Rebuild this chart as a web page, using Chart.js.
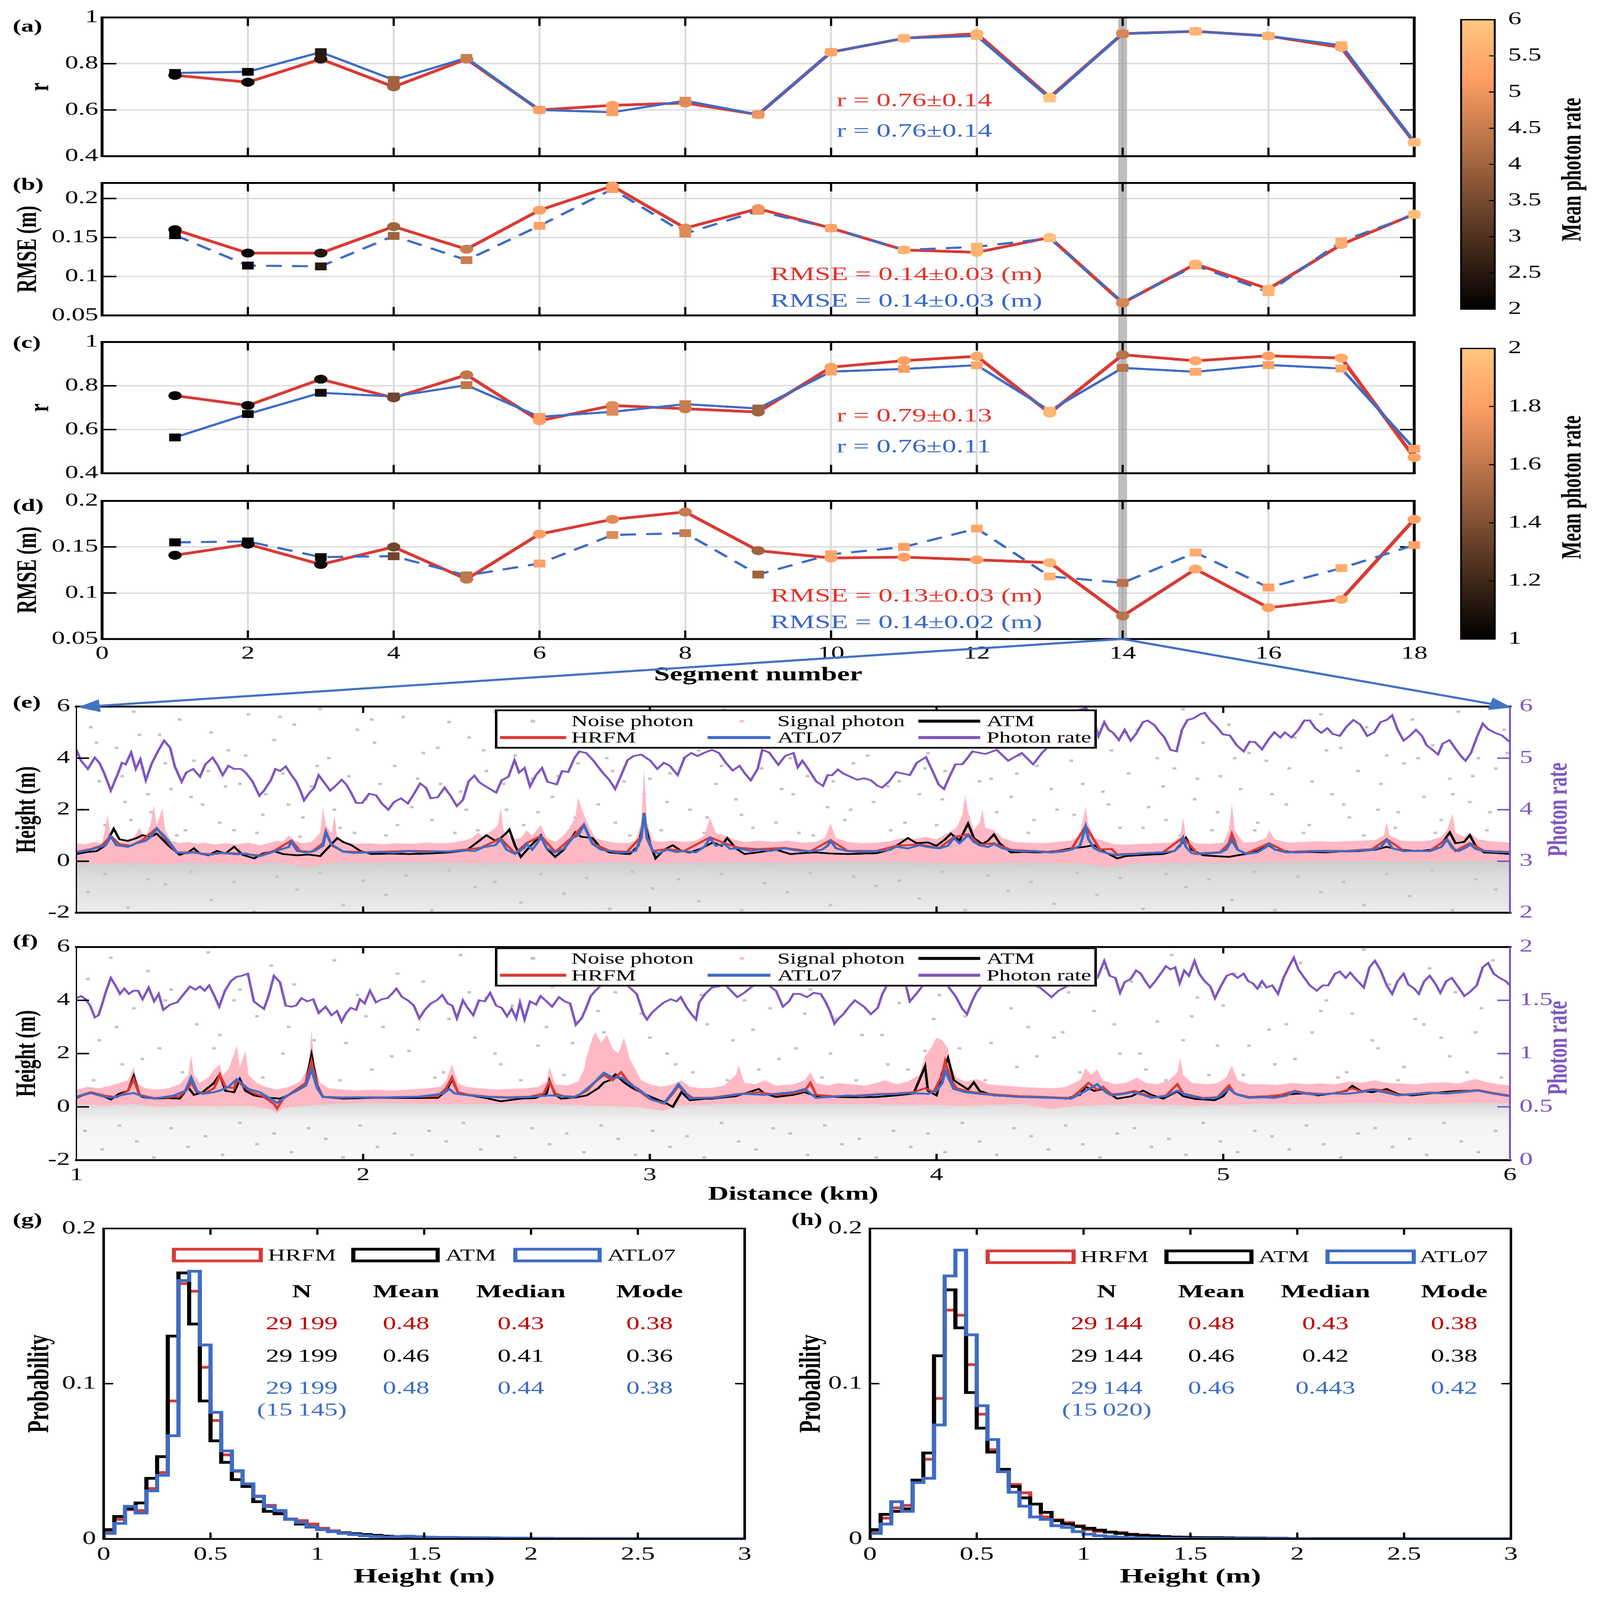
<!DOCTYPE html>
<html><head><meta charset="utf-8">
<script src="https://cdn.jsdelivr.net/npm/chart.js@4/dist/chart.umd.min.js"></script>
<style>
html,body{margin:0;padding:0;background:#fff;overflow:hidden;}
body{position:relative;width:5047px;height:7519px;overflow:hidden;font-family:"Liberation Serif","Times New Roman",serif;color:#000;}
canvas{position:absolute;}
.tx{position:absolute;white-space:nowrap;line-height:1;transform:translateY(-50%);z-index:6;}
.ctr{position:absolute;white-space:nowrap;line-height:1;transform:translate(-50%,-50%);z-index:6;}
.rot{position:absolute;white-space:nowrap;line-height:1;transform:translate(-50%,-50%) rotate(-90deg);z-index:6;font-weight:bold;}
.lg{position:absolute;background:#fff;border:8px solid #000;box-sizing:border-box;z-index:4;}
.sw{position:absolute;z-index:6;}
</style></head><body>
<script>
// ===================== DATA =====================
const segments=[1,2,3,4,5,6,7,8,9,10,11,12,13,14,15,16,17,18];
const segTicks=[0,2,4,6,8,10,12,14,16,18];
const rTicks=[0.4,0.6,0.8,1];
const rmseTicks=[0.05,0.1,0.15,0.2];
const cbTicksAB=[2,2.5,3,3.5,4,4.5,5,5.5,6];
const cbTicksCD=[1,1.2,1.4,1.6,1.8,2];
const heightTicks=[-2,0,2,4,6];
const rateTicksE=[2,3,4,5,6];
const rateTicksF=[0,0.5,1,1.5,2];
const distTicks=[1,2,3,4,5,6];
const histXTicks=[0,0.5,1,1.5,2,2.5,3];
const histYTicks=[0,0.1,0.2];

const rateAB=[2.0,2.1,2.5,4.0,4.5,5.2,5.2,4.8,5.0,5.3,5.6,5.6,5.9,4.7,5.6,5.6,5.5,5.8];
const rateCD=[1.0,1.02,1.05,1.35,1.6,1.8,1.7,1.62,1.5,1.82,1.8,1.84,1.92,1.58,1.85,1.8,1.86,1.82];

const rHRFM_a=[0.75,0.72,0.82,0.70,0.82,0.60,0.62,0.63,0.58,0.85,0.91,0.93,0.655,0.93,0.94,0.92,0.87,0.46];
const rATL_a =[0.76,0.765,0.85,0.73,0.825,0.60,0.59,0.64,0.58,0.85,0.91,0.92,0.65,0.93,0.94,0.92,0.88,0.46];
const rmseHRFM_b=[0.160,0.130,0.130,0.164,0.135,0.185,0.216,0.162,0.187,0.162,0.134,0.131,0.150,0.066,0.116,0.084,0.141,0.180];
const rmseATL_b =[0.153,0.114,0.113,0.152,0.121,0.165,0.212,0.155,0.184,0.162,0.134,0.138,0.149,0.067,0.114,0.080,0.145,0.179];
const rHRFM_c=[0.755,0.71,0.83,0.745,0.85,0.64,0.71,0.695,0.68,0.885,0.915,0.935,0.675,0.942,0.914,0.937,0.927,0.472];
const rATL_c =[0.564,0.671,0.768,0.751,0.803,0.658,0.681,0.716,0.696,0.865,0.877,0.894,0.686,0.882,0.864,0.895,0.879,0.512];
const rmseHRFM_d=[0.141,0.153,0.131,0.150,0.115,0.164,0.180,0.188,0.146,0.138,0.139,0.136,0.133,0.075,0.126,0.084,0.093,0.180];
const rmseATL_d =[0.155,0.156,0.139,0.140,0.119,0.132,0.163,0.165,0.120,0.142,0.150,0.170,0.118,0.111,0.144,0.106,0.127,0.152];

const eRate=[[1.000,5.16],[1.016,4.95],[1.040,4.79],[1.064,5.01],[1.080,4.91],[1.096,4.72],[1.120,4.37],[1.144,4.69],[1.159,4.91],[1.172,4.88],[1.191,5.11],[1.207,4.79],[1.223,4.98],[1.242,4.57],[1.263,4.90],[1.287,5.16],[1.306,5.34],[1.327,5.20],[1.343,4.84],[1.367,4.54],[1.383,4.72],[1.407,4.79],[1.431,4.64],[1.450,4.88],[1.475,5.01],[1.494,4.85],[1.510,4.67],[1.530,4.85],[1.550,4.79],[1.574,4.79],[1.590,4.72],[1.614,4.55],[1.638,4.27],[1.654,4.37],[1.678,4.57],[1.694,4.79],[1.710,4.75],[1.730,4.84],[1.750,4.67],[1.766,4.55],[1.781,4.37],[1.794,4.18],[1.813,4.33],[1.829,4.42],[1.845,4.67],[1.869,4.49],[1.885,4.37],[1.909,4.49],[1.925,4.58],[1.941,4.49],[1.957,4.34],[1.976,4.13],[1.997,4.13],[2.021,4.31],[2.045,4.28],[2.065,4.12],[2.088,4.00],[2.108,4.15],[2.132,4.22],[2.156,4.12],[2.180,4.33],[2.199,4.51],[2.220,4.42],[2.236,4.22],[2.260,4.24],[2.284,4.43],[2.305,4.27],[2.327,4.07],[2.348,4.19],[2.368,4.55],[2.388,4.66],[2.404,4.54],[2.419,4.48],[2.443,4.40],[2.464,4.33],[2.483,4.57],[2.507,4.64],[2.528,4.96],[2.544,4.72],[2.563,4.81],[2.582,4.45],[2.603,4.67],[2.624,4.81],[2.643,4.54],[2.675,4.49],[2.694,4.75],[2.715,4.73],[2.738,5.01],[2.754,5.13],[2.778,5.10],[2.802,4.96],[2.834,4.73],[2.858,4.58],[2.879,4.40],[2.898,4.64],[2.922,4.96],[2.943,5.04],[2.970,5.07],[3.002,4.95],[3.026,4.79],[3.049,4.91],[3.070,4.85],[3.097,4.67],[3.121,5.01],[3.145,5.10],[3.166,5.04],[3.188,5.10],[3.217,5.16],[3.241,5.10],[3.265,4.91],[3.289,4.76],[3.313,4.85],[3.332,4.70],[3.352,4.57],[3.376,4.79],[3.392,5.16],[3.416,5.11],[3.448,4.87],[3.472,5.04],[3.501,5.10],[3.516,4.82],[3.532,4.95],[3.556,4.76],[3.580,4.55],[3.604,4.46],[3.620,4.67],[3.636,4.67],[3.656,4.78],[3.675,4.70],[3.699,4.64],[3.723,4.58],[3.747,4.61],[3.771,4.57],[3.795,4.46],[3.811,4.43],[3.835,4.55],[3.859,4.73],[3.883,4.70],[3.907,4.67],[3.931,4.91],[3.963,5.02],[3.986,4.75],[4.007,4.49],[4.026,4.40],[4.045,4.64],[4.066,4.88],[4.090,4.88],[4.109,5.01],[4.125,5.13],[4.170,5.08],[4.210,5.16],[4.250,4.95],[4.297,5.10],[4.337,4.88],[4.369,5.11],[4.409,5.32],[4.457,5.55],[4.497,5.94],[4.521,5.97],[4.545,5.83],[4.565,5.43],[4.585,5.70],[4.600,5.55],[4.616,5.49],[4.636,5.35],[4.656,5.55],[4.677,5.34],[4.696,5.47],[4.720,5.70],[4.736,5.73],[4.760,5.64],[4.776,5.52],[4.795,5.40],[4.816,5.16],[4.837,5.13],[4.856,5.55],[4.875,5.74],[4.896,5.77],[4.919,5.85],[4.935,5.88],[4.955,5.73],[4.975,5.62],[4.999,5.46],[5.023,5.44],[5.047,5.25],[5.071,5.13],[5.092,5.32],[5.111,5.31],[5.135,5.17],[5.159,5.37],[5.178,5.50],[5.199,5.40],[5.215,5.50],[5.238,5.40],[5.262,5.55],[5.283,5.73],[5.302,5.73],[5.321,5.58],[5.342,5.49],[5.363,5.58],[5.382,5.47],[5.406,5.43],[5.430,5.61],[5.454,5.74],[5.478,5.65],[5.502,5.43],[5.526,5.50],[5.549,5.70],[5.570,5.74],[5.589,5.83],[5.608,5.55],[5.629,5.34],[5.650,5.43],[5.672,5.55],[5.693,5.43],[5.709,5.25],[5.730,5.16],[5.749,5.07],[5.765,5.28],[5.789,5.35],[5.813,5.16],[5.829,5.04],[5.845,4.95],[5.864,5.10],[5.884,5.40],[5.905,5.67],[5.924,5.56],[5.948,5.49],[5.972,5.44],[6.000,5.31]];
const eATL=[[1.00,0.34],[1.04,0.42],[1.08,0.55],[1.10,0.60],[1.12,0.95],[1.14,0.62],[1.18,0.56],[1.21,0.70],[1.24,0.79],[1.26,0.95],[1.28,1.26],[1.30,1.05],[1.32,0.80],[1.35,0.35],[1.38,0.30],[1.41,0.36],[1.44,0.27],[1.47,0.25],[1.50,0.33],[1.53,0.30],[1.56,0.27],[1.59,0.30],[1.62,0.22],[1.64,0.20],[1.67,0.30],[1.70,0.42],[1.74,0.55],[1.75,0.76],[1.77,0.40],[1.80,0.34],[1.83,0.40],[1.86,0.60],[1.87,1.12],[1.89,0.65],[1.93,0.37],[1.97,0.32],[2.01,0.34],[2.06,0.36],[2.11,0.33],[2.16,0.39],[2.21,0.35],[2.26,0.38],[2.30,0.37],[2.35,0.42],[2.39,0.40],[2.42,0.55],[2.46,0.62],[2.48,0.84],[2.50,0.45],[2.53,0.28],[2.56,0.50],[2.57,0.67],[2.59,0.45],[2.61,0.75],[2.62,0.95],[2.64,0.50],[2.67,0.34],[2.70,0.48],[2.73,0.90],[2.75,1.00],[2.77,1.40],[2.79,0.90],[2.80,0.67],[2.83,0.45],[2.86,0.39],[2.89,0.33],[2.92,0.34],[2.95,0.40],[2.97,0.90],[2.98,1.85],[2.99,0.90],[3.01,0.39],[3.03,0.30],[3.06,0.45],[3.09,0.36],[3.12,0.39],[3.16,0.35],[3.19,0.55],[3.21,0.90],[3.23,0.60],[3.26,0.67],[3.28,0.48],[3.31,0.50],[3.35,0.40],[3.38,0.45],[3.42,0.40],[3.47,0.50],[3.51,0.42],[3.56,0.37],[3.60,0.45],[3.62,0.60],[3.63,0.79],[3.65,0.50],[3.69,0.39],[3.74,0.36],[3.79,0.39],[3.83,0.42],[3.86,0.56],[3.90,0.50],[3.94,0.62],[3.97,0.55],[4.01,0.50],[4.04,0.60],[4.06,0.90],[4.08,0.70],[4.11,1.01],[4.13,0.75],[4.15,0.62],[4.18,0.55],[4.20,0.67],[4.23,0.50],[4.26,0.42],[4.30,0.38],[4.33,0.39],[4.37,0.36],[4.40,0.34],[4.44,0.38],[4.47,0.45],[4.50,0.60],[4.51,0.95],[4.52,1.34],[4.53,0.85],[4.55,0.50],[4.57,0.39],[4.60,0.30],[4.63,0.23],[4.66,0.26],[4.70,0.28],[4.74,0.32],[4.79,0.34],[4.83,0.40],[4.85,0.60],[4.86,0.90],[4.87,0.55],[4.89,0.32],[4.91,0.28],[4.95,0.30],[4.99,0.34],[5.01,0.45],[5.03,0.81],[5.05,0.45],[5.08,0.28],[5.12,0.35],[5.15,0.55],[5.16,0.67],[5.18,0.45],[5.22,0.34],[5.27,0.36],[5.32,0.39],[5.37,0.37],[5.43,0.39],[5.48,0.42],[5.52,0.45],[5.55,0.55],[5.57,0.84],[5.59,0.50],[5.63,0.39],[5.68,0.41],[5.72,0.39],[5.76,0.55],[5.78,0.84],[5.80,0.50],[5.82,0.39],[5.85,0.55],[5.86,0.67],[5.88,0.48],[5.91,0.39],[5.95,0.36],[6.00,0.34]];
const eATM=[[1.00,0.28],[1.04,0.36],[1.07,0.39],[1.10,0.60],[1.13,1.26],[1.15,0.85],[1.18,0.79],[1.21,0.90],[1.23,1.01],[1.26,0.95],[1.28,1.07],[1.30,0.85],[1.32,0.62],[1.36,0.25],[1.39,0.35],[1.41,0.50],[1.43,0.30],[1.46,0.23],[1.49,0.40],[1.52,0.30],[1.55,0.56],[1.58,0.25],[1.62,0.11],[1.65,0.30],[1.69,0.39],[1.72,0.28],[1.77,0.23],[1.81,0.26],[1.85,0.20],[1.88,0.55],[1.91,0.90],[1.93,0.75],[1.96,0.62],[1.99,0.40],[2.03,0.28],[2.09,0.30],[2.16,0.28],[2.23,0.30],[2.30,0.34],[2.36,0.42],[2.40,0.75],[2.43,1.01],[2.46,0.80],[2.48,0.90],[2.50,1.10],[2.51,1.23],[2.53,0.60],[2.55,0.17],[2.58,0.55],[2.62,1.01],[2.64,0.50],[2.67,0.17],[2.70,0.45],[2.74,1.12],[2.76,0.95],[2.80,0.90],[2.83,0.50],[2.86,0.34],[2.90,0.30],[2.93,0.28],[2.96,0.60],[2.98,1.63],[3.00,0.70],[3.02,0.11],[3.05,0.45],[3.08,0.62],[3.11,0.40],[3.14,0.34],[3.18,0.50],[3.22,0.73],[3.25,0.60],[3.27,0.90],[3.30,0.50],[3.33,0.28],[3.38,0.35],[3.44,0.45],[3.49,0.28],[3.54,0.32],[3.58,0.34],[3.63,0.30],[3.69,0.28],[3.75,0.30],[3.79,0.31],[3.84,0.45],[3.90,0.90],[3.93,0.70],[3.97,0.73],[4.00,0.60],[4.03,0.85],[4.05,1.07],[4.08,0.80],[4.11,1.46],[4.13,0.90],[4.16,0.67],[4.18,0.80],[4.20,1.04],[4.22,0.70],[4.26,0.34],[4.31,0.36],[4.36,0.34],[4.42,0.40],[4.47,0.50],[4.51,0.55],[4.55,0.62],[4.58,0.40],[4.63,0.11],[4.66,0.20],[4.70,0.23],[4.75,0.26],[4.79,0.28],[4.83,0.40],[4.86,0.75],[4.87,0.90],[4.89,0.45],[4.93,0.23],[4.97,0.20],[5.02,0.17],[5.06,0.25],[5.08,0.28],[5.12,0.40],[5.16,0.62],[5.18,0.45],[5.25,0.34],[5.30,0.36],[5.36,0.34],[5.41,0.38],[5.47,0.39],[5.53,0.45],[5.57,0.56],[5.61,0.45],[5.68,0.39],[5.73,0.45],[5.77,0.80],[5.79,1.12],[5.81,0.70],[5.84,0.75],[5.86,1.01],[5.88,0.60],[5.91,0.34],[5.95,0.32],[6.00,0.28]];
const eHRFM=[[1.00,0.36],[1.05,0.47],[1.09,0.62],[1.12,0.98],[1.15,0.66],[1.19,0.60],[1.23,0.82],[1.28,1.28],[1.31,0.88],[1.35,0.33],[1.40,0.35],[1.46,0.27],[1.52,0.32],[1.58,0.29],[1.64,0.22],[1.69,0.41],[1.75,0.80],[1.78,0.40],[1.82,0.36],[1.86,0.70],[1.87,1.15],[1.89,0.62],[1.93,0.38],[2.01,0.35],[2.16,0.40],[2.30,0.38],[2.41,0.52],[2.48,0.88],[2.53,0.30],[2.57,0.70],[2.62,0.98],[2.67,0.36],[2.73,0.93],[2.77,1.42],[2.80,0.70],[2.86,0.40],[2.92,0.36],[2.97,0.95],[2.98,1.88],[2.99,0.95],[3.01,0.40],[3.06,0.47],[3.12,0.40],[3.21,0.93],[3.26,0.70],[3.31,0.52],[3.38,0.47],[3.47,0.52],[3.56,0.38],[3.63,0.82],[3.69,0.40],[3.79,0.40],[3.86,0.60],[3.94,0.65],[4.01,0.52],[4.06,0.93],[4.11,1.05],[4.15,0.64],[4.20,0.70],[4.26,0.44],[4.33,0.40],[4.40,0.36],[4.47,0.46],[4.52,1.36],[4.57,0.45],[4.61,0.48],[4.63,0.26],[4.70,0.30],[4.79,0.35],[4.86,0.92],[4.91,0.30],[4.99,0.35],[5.02,0.70],[5.03,1.05],[5.05,0.45],[5.08,0.30],[5.16,0.70],[5.22,0.36],[5.32,0.40],[5.43,0.40],[5.52,0.47],[5.57,0.86],[5.63,0.40],[5.72,0.40],[5.78,0.86],[5.81,0.40],[5.86,0.70],[5.91,0.40],[6.00,0.36]];
const eSigTop=[[1.00,0.70],[1.03,0.65],[1.06,0.75],[1.09,0.70],[1.11,1.80],[1.12,0.80],[1.15,0.72],[1.18,0.85],[1.20,0.90],[1.22,1.30],[1.24,0.85],[1.26,1.50],[1.27,2.20],[1.28,1.40],[1.30,2.07],[1.31,1.20],[1.33,0.80],[1.36,0.70],[1.39,0.75],[1.42,0.68],[1.45,0.72],[1.48,0.65],[1.52,0.70],[1.56,0.66],[1.60,0.72],[1.64,0.62],[1.67,0.70],[1.70,0.80],[1.72,0.75],[1.74,1.00],[1.76,0.80],[1.79,0.70],[1.82,0.75],[1.85,1.10],[1.86,2.07],[1.87,1.40],[1.89,1.10],[1.90,1.80],[1.91,0.90],[1.94,0.72],[1.98,0.68],[2.02,0.70],[2.07,0.66],[2.12,0.70],[2.17,0.68],[2.22,0.72],[2.27,0.70],[2.31,0.72],[2.35,0.80],[2.38,0.90],[2.40,1.10],[2.42,0.95],[2.45,1.20],[2.47,1.40],[2.48,2.07],[2.49,1.20],[2.52,0.85],[2.55,0.90],[2.57,1.20],[2.59,1.00],[2.62,1.40],[2.64,0.90],[2.67,0.75],[2.70,1.00],[2.72,1.30],[2.74,1.70],[2.75,2.46],[2.77,1.80],[2.79,1.30],[2.81,0.90],[2.84,0.80],[2.88,0.72],[2.92,0.70],[2.95,0.80],[2.97,1.50],[2.98,3.58],[2.99,1.50],[3.01,0.80],[3.04,0.75],[3.08,0.80],[3.12,0.75],[3.16,0.80],[3.19,1.00],[3.21,1.68],[3.23,1.10],[3.26,1.00],[3.29,0.85],[3.33,0.75],[3.38,0.80],[3.43,0.75],[3.48,0.80],[3.53,0.72],[3.58,0.75],[3.61,0.90],[3.63,1.46],[3.65,0.90],[3.69,0.75],[3.74,0.70],[3.79,0.72],[3.84,0.78],[3.88,0.90],[3.92,0.85],[3.96,0.95],[4.00,0.85],[4.04,1.10],[4.07,1.30],[4.09,1.80],[4.10,2.58],[4.11,1.90],[4.13,1.20],[4.15,1.50],[4.16,2.00],[4.17,1.30],[4.20,1.20],[4.23,0.90],[4.27,0.75],[4.32,0.72],[4.37,0.70],[4.42,0.75],[4.47,0.80],[4.50,1.00],[4.51,1.60],[4.52,2.10],[4.53,1.40],[4.55,0.90],[4.58,0.80],[4.62,0.65],[4.67,0.65],[4.72,0.68],[4.77,0.70],[4.82,0.72],[4.85,0.95],[4.86,1.68],[4.87,0.95],[4.90,0.70],[4.95,0.68],[5.00,0.72],[5.02,1.20],[5.03,2.24],[5.04,1.20],[5.07,0.72],[5.11,0.75],[5.15,0.90],[5.16,1.20],[5.18,0.85],[5.23,0.72],[5.28,0.75],[5.33,0.78],[5.38,0.75],[5.43,0.78],[5.48,0.80],[5.53,0.82],[5.56,1.00],[5.57,1.51],[5.58,1.00],[5.62,0.80],[5.67,0.78],[5.72,0.80],[5.76,0.95],[5.78,1.20],[5.80,1.85],[5.81,1.10],[5.84,0.95],[5.86,1.10],[5.89,0.85],[5.93,0.78],[5.97,0.75],[6.00,0.72]];
const eSigBot=[[1.00,-0.05],[1.10,-0.10],[1.20,-0.05],[1.30,-0.12],[1.40,-0.05],[1.50,-0.08],[1.60,-0.12],[1.70,-0.05],[1.80,-0.20],[1.90,-0.05],[2.00,-0.05],[2.20,-0.02],[2.40,-0.08],[2.50,-0.05],[2.60,-0.10],[2.70,-0.12],[2.80,-0.05],[2.90,-0.02],[3.00,-0.10],[3.10,-0.05],[3.30,-0.03],[3.50,-0.05],[3.70,0.00],[3.90,-0.03],[4.10,-0.10],[4.30,-0.05],[4.50,-0.08],[4.60,-0.20],[4.70,-0.08],[4.90,-0.05],[5.10,-0.05],[5.30,0.00],[5.50,0.02],[5.70,0.00],[5.90,0.02],[6.00,0.00]];
const eNoiseTop=[[1.00,0.10],[6.00,0.10]];
const eNoiseHi=[[1.05,5.2],[1.08,3.1],[1.10,1.4],[1.14,4.4],[1.17,2.3],[1.20,5.8],[1.23,3.6],[1.26,1.9],[1.29,4.9],[1.33,2.8],[1.36,5.5],[1.38,1.2],[1.41,3.9],[1.44,2.2],[1.47,5.0],[1.50,1.5],[1.53,4.3],[1.57,3.0],[1.60,5.7],[1.63,1.1],[1.66,2.6],[1.69,4.7],[1.72,3.4],[1.76,5.3],[1.79,1.7],[1.82,2.9],[1.85,5.9],[1.88,4.0],[1.92,1.3],[1.95,3.3],[1.98,5.1],[2.01,2.4],[2.04,4.6],[2.08,1.0],[2.11,3.7],[2.14,5.6],[2.17,2.1],[2.21,4.2],[2.24,1.6],[2.27,3.0],[2.30,5.4],[2.34,2.7],[2.37,4.8],[2.40,1.2],[2.43,3.5],[2.46,5.8],[2.50,2.0],[2.53,4.1],[2.56,1.4],[2.59,3.2],[2.62,5.2],[2.66,2.5],[2.69,4.5],[2.72,1.1],[2.75,3.8],[2.78,5.0],[2.82,2.2],[2.85,4.0],[2.88,1.5],[2.91,3.1],[2.94,5.6],[2.98,2.6],[3.01,4.7],[3.04,1.2],[3.07,3.4],[3.10,5.3],[3.14,2.0],[3.17,4.3],[3.20,1.7],[3.23,3.0],[3.26,5.9],[3.30,2.4],[3.33,4.6],[3.36,1.3],[3.39,3.6],[3.42,5.1],[3.46,2.8],[3.49,4.0],[3.52,1.1],[3.55,3.3],[3.58,5.5],[3.62,2.1],[3.65,4.4],[3.68,1.6],[3.71,3.8],[3.74,5.2],[3.78,2.3],[3.81,4.9],[3.84,1.2],[3.87,3.1],[3.90,5.7],[3.94,2.6],[3.97,4.2],[4.00,1.4],[4.03,3.5],[4.06,5.0],[4.10,2.2],[4.13,4.5],[4.16,1.5],[4.19,3.2],[4.22,5.8],[4.26,2.5],[4.29,4.1],[4.32,1.1],[4.35,3.7],[4.38,5.4],[4.42,2.0],[4.45,4.7],[4.48,1.8],[4.51,3.0],[4.54,5.6],[4.58,2.7],[4.61,4.3],[4.64,1.3],[4.67,3.4],[4.70,5.1],[4.74,2.1],[4.77,4.0],[4.80,1.6],[4.83,3.6],[4.86,5.9],[4.90,2.4],[4.93,4.6],[4.96,1.2],[4.99,3.3],[5.02,5.3],[5.06,2.8],[5.09,4.2],[5.12,1.5],[5.15,3.9],[5.18,5.0],[5.22,2.2],[5.25,4.8],[5.28,1.1],[5.31,3.1],[5.34,5.7],[5.38,2.6],[5.41,4.4],[5.44,1.7],[5.47,3.5],[5.50,5.2],[5.54,2.0],[5.57,4.1],[5.60,1.3],[5.63,3.8],[5.66,5.5],[5.70,2.5],[5.73,4.5],[5.76,1.6],[5.79,3.2],[5.82,5.8],[5.86,2.3],[5.89,4.0],[5.92,1.2],[5.95,3.6],[5.98,5.1],
[1.02,2.0],[1.07,4.6],[1.12,0.9],[1.16,3.3],[1.19,1.6],[1.22,4.9],[1.25,2.6],[1.31,3.8],[1.35,1.0],[1.40,2.5],[1.46,3.5],[1.52,2.9],[1.55,1.2],[1.59,4.1],[1.65,1.8],[1.71,5.6],[1.74,2.2],[1.78,0.95],[1.84,3.7],[1.90,2.0],[1.97,1.1],[2.03,5.5],[2.06,3.0],[2.12,1.4],[2.19,3.2],[2.26,4.4],[2.32,1.1],[2.36,2.0],[2.42,4.3],[2.49,3.0],[2.55,5.0],[2.61,1.9],[2.68,3.3],[2.74,1.7],[2.80,4.4],[2.87,3.5],[2.93,1.0],[3.00,3.2],[3.06,2.3],[3.12,4.0],[3.19,1.1],[3.25,3.7],[3.32,1.8],[3.38,5.5],[3.44,1.5],[3.50,2.6],[3.57,1.0],[3.64,3.1],[3.70,2.0],[3.76,4.1],[3.83,2.9],[3.89,1.5],[3.96,3.6],[4.02,2.4],[4.08,1.0],[4.15,3.1],[4.21,1.9],[4.28,3.4],[4.34,1.6],[4.40,2.8],[4.47,3.9],[4.53,1.1],[4.60,2.2],[4.66,5.0],[4.72,1.3],[4.79,2.9],[4.85,1.0],[4.91,3.2],[4.98,1.9],[5.04,4.0],[5.11,1.2],[5.17,2.6],[5.23,3.6],[5.30,1.4],[5.36,4.3],[5.42,2.2],[5.49,1.0],[5.55,3.0],[5.61,1.9],[5.68,4.0],[5.74,1.1],[5.80,2.6],[5.87,3.3],[5.93,1.9],[5.99,4.2]];
const eNoiseLo=[[1.04,-1.2],[1.18,-1.8],[1.31,-0.9],[1.47,-1.5],[1.62,-1.95],[1.77,-1.1],[1.93,-1.7],[2.08,-1.3],[2.24,-1.9],[2.39,-1.0],[2.55,-1.6],[2.70,-1.25],[2.86,-1.85],[3.01,-1.05],[3.17,-1.55],[3.32,-1.9],[3.48,-1.2],[3.63,-1.7],[3.79,-0.95],[3.94,-1.45],[4.10,-1.9],[4.25,-1.15],[4.41,-1.65],[4.56,-1.3],[4.72,-1.85],[4.87,-1.0],[5.03,-1.5],[5.18,-1.9],[5.34,-1.2],[5.49,-1.7],[5.65,-1.35],[5.80,-1.9],[5.95,-1.1],[1.10,-0.5],[1.25,-0.7],[1.40,-0.4],[1.55,-0.8],[1.70,-0.6],[1.85,-0.45],[2.00,-0.75],[2.15,-0.55],[2.30,-0.35],[2.46,-0.8],[2.62,-0.5],[2.78,-0.65],[2.94,-0.4],[3.10,-0.7],[3.25,-0.5],[3.40,-0.85],[3.56,-0.45],[3.71,-0.6],[3.87,-0.75],[4.02,-0.4],[4.18,-0.55],[4.33,-0.8],[4.49,-0.45],[4.64,-0.65],[4.80,-0.5],[4.95,-0.7],[5.11,-0.4],[5.26,-0.6],[5.42,-0.8],[5.57,-0.5],[5.73,-0.35],[5.88,-0.7]];

const fRate=[[1.000,1.52],[1.016,1.54],[1.032,1.51],[1.048,1.45],[1.064,1.34],[1.077,1.36],[1.088,1.45],[1.104,1.59],[1.120,1.71],[1.136,1.64],[1.152,1.56],[1.167,1.61],[1.183,1.56],[1.199,1.59],[1.215,1.59],[1.231,1.51],[1.252,1.62],[1.271,1.49],[1.287,1.56],[1.303,1.41],[1.327,1.46],[1.351,1.48],[1.375,1.56],[1.396,1.63],[1.415,1.60],[1.431,1.63],[1.447,1.59],[1.463,1.64],[1.478,1.56],[1.498,1.44],[1.518,1.59],[1.539,1.68],[1.558,1.72],[1.577,1.73],[1.598,1.75],[1.619,1.49],[1.638,1.45],[1.654,1.42],[1.670,1.54],[1.689,1.73],[1.710,1.67],[1.730,1.45],[1.750,1.44],[1.766,1.45],[1.785,1.52],[1.805,1.49],[1.826,1.51],[1.845,1.38],[1.869,1.44],[1.890,1.36],[1.909,1.40],[1.925,1.30],[1.941,1.38],[1.957,1.43],[1.976,1.41],[1.989,1.51],[2.005,1.47],[2.024,1.59],[2.045,1.48],[2.065,1.51],[2.085,1.52],[2.100,1.56],[2.116,1.61],[2.136,1.53],[2.156,1.50],[2.177,1.45],[2.196,1.33],[2.215,1.41],[2.236,1.47],[2.257,1.50],[2.276,1.55],[2.295,1.47],[2.311,1.45],[2.327,1.33],[2.348,1.50],[2.364,1.43],[2.384,1.36],[2.404,1.50],[2.424,1.49],[2.443,1.57],[2.464,1.45],[2.483,1.43],[2.502,1.35],[2.518,1.42],[2.534,1.33],[2.547,1.48],[2.563,1.32],[2.582,1.49],[2.603,1.46],[2.619,1.54],[2.640,1.49],[2.659,1.44],[2.683,1.53],[2.703,1.49],[2.722,1.47],[2.742,1.27],[2.762,1.33],[2.778,1.43],[2.794,1.54],[2.810,1.59],[2.834,1.65],[2.882,1.71],[2.930,1.62],[2.954,1.56],[2.978,1.37],[2.990,1.32],[3.006,1.38],[3.026,1.43],[3.049,1.48],[3.073,1.51],[3.093,1.49],[3.108,1.53],[3.129,1.43],[3.145,1.37],[3.161,1.32],[3.172,1.48],[3.193,1.56],[3.217,1.62],[3.265,1.64],[3.305,1.53],[3.329,1.57],[3.352,1.62],[3.392,1.68],[3.440,1.59],[3.464,1.44],[3.485,1.49],[3.501,1.56],[3.524,1.56],[3.548,1.53],[3.572,1.57],[3.596,1.56],[3.612,1.49],[3.628,1.40],[3.644,1.28],[3.659,1.33],[3.675,1.37],[3.695,1.44],[3.715,1.50],[3.731,1.47],[3.747,1.44],[3.771,1.37],[3.795,1.43],[3.811,1.56],[3.835,1.68],[3.883,1.75],[3.907,1.49],[3.923,1.54],[3.947,1.62],[3.978,1.73],[4.026,1.68],[4.066,1.54],[4.090,1.42],[4.106,1.37],[4.122,1.48],[4.138,1.57],[4.170,1.68],[4.234,1.75],[4.297,1.68],[4.361,1.62],[4.401,1.53],[4.425,1.59],[4.489,1.68],[4.561,1.71],[4.585,1.87],[4.604,1.73],[4.624,1.71],[4.640,1.57],[4.656,1.67],[4.677,1.70],[4.696,1.78],[4.712,1.75],[4.728,1.68],[4.744,1.62],[4.763,1.68],[4.784,1.76],[4.800,1.82],[4.816,1.79],[4.832,1.81],[4.848,1.66],[4.864,1.78],[4.880,1.73],[4.900,1.87],[4.916,1.75],[4.935,1.68],[4.955,1.63],[4.971,1.52],[4.991,1.63],[5.012,1.73],[5.031,1.75],[5.050,1.71],[5.071,1.75],[5.087,1.68],[5.103,1.66],[5.119,1.61],[5.135,1.68],[5.151,1.62],[5.171,1.64],[5.191,1.56],[5.210,1.71],[5.230,1.82],[5.246,1.90],[5.262,1.79],[5.283,1.71],[5.302,1.64],[5.326,1.59],[5.347,1.64],[5.366,1.64],[5.390,1.75],[5.406,1.77],[5.427,1.71],[5.443,1.76],[5.462,1.70],[5.490,1.62],[5.510,1.81],[5.529,1.87],[5.549,1.78],[5.570,1.64],[5.589,1.56],[5.608,1.68],[5.629,1.75],[5.645,1.65],[5.666,1.61],[5.682,1.56],[5.701,1.68],[5.720,1.73],[5.741,1.65],[5.757,1.57],[5.778,1.68],[5.797,1.71],[5.821,1.62],[5.841,1.54],[5.861,1.58],[5.884,1.64],[5.905,1.81],[5.924,1.85],[5.943,1.75],[5.964,1.71],[5.985,1.68],[6.000,1.64]];
const fATL=[[1.00,0.37],[1.05,0.52],[1.09,0.40],[1.12,0.34],[1.16,0.45],[1.20,0.52],[1.23,0.40],[1.27,0.31],[1.30,0.36],[1.34,0.43],[1.38,0.60],[1.40,1.10],[1.42,0.60],[1.44,0.49],[1.48,0.55],[1.50,0.61],[1.53,0.75],[1.56,1.04],[1.58,0.85],[1.60,0.67],[1.64,0.55],[1.67,0.35],[1.70,0.15],[1.73,0.40],[1.77,0.61],[1.80,0.80],[1.82,1.40],[1.84,0.70],[1.86,0.37],[1.92,0.34],[1.98,0.36],[2.05,0.34],[2.12,0.37],[2.19,0.38],[2.23,0.43],[2.28,0.50],[2.30,0.67],[2.32,0.50],[2.37,0.43],[2.44,0.37],[2.51,0.34],[2.58,0.37],[2.65,0.43],[2.70,0.40],[2.73,0.34],[2.76,0.50],[2.78,0.67],[2.81,0.95],[2.84,1.28],[2.87,1.10],[2.90,1.10],[2.93,0.85],[2.96,0.67],[3.01,0.25],[3.05,0.15],[3.08,0.55],[3.10,0.85],[3.12,0.60],[3.14,0.31],[3.19,0.33],[3.23,0.34],[3.30,0.45],[3.33,0.49],[3.40,0.45],[3.44,0.49],[3.50,0.55],[3.54,0.67],[3.56,0.50],[3.58,0.34],[3.64,0.38],[3.69,0.43],[3.74,0.40],[3.79,0.46],[3.86,0.48],[3.90,0.52],[3.97,0.49],[4.00,0.60],[4.02,0.90],[4.03,1.34],[4.05,0.90],[4.06,0.67],[4.10,0.55],[4.15,0.49],[4.22,0.42],[4.29,0.37],[4.36,0.36],[4.40,0.34],[4.47,0.31],[4.52,0.60],[4.56,0.85],[4.59,0.55],[4.61,0.43],[4.65,0.48],[4.68,0.55],[4.72,0.45],[4.75,0.34],[4.80,0.40],[4.84,0.61],[4.87,0.45],[4.93,0.31],[4.98,0.35],[5.02,0.67],[5.05,0.45],[5.09,0.34],[5.14,0.36],[5.18,0.34],[5.22,0.42],[5.25,0.58],[5.28,0.50],[5.32,0.46],[5.38,0.50],[5.43,0.49],[5.48,0.55],[5.52,0.64],[5.56,0.55],[5.61,0.43],[5.66,0.47],[5.72,0.52],[5.78,0.50],[5.83,0.55],[5.89,0.61],[5.94,0.50],[6.00,0.40]];
const fATM=[[1.00,0.34],[1.05,0.55],[1.08,0.46],[1.12,0.28],[1.15,0.50],[1.18,0.60],[1.20,1.16],[1.22,0.45],[1.23,0.37],[1.27,0.31],[1.32,0.33],[1.36,0.31],[1.39,0.73],[1.41,0.45],[1.44,0.55],[1.48,0.90],[1.50,1.22],[1.52,0.60],[1.55,0.55],[1.57,1.04],[1.59,0.60],[1.62,0.43],[1.66,0.35],[1.71,0.31],[1.74,0.45],[1.77,0.67],[1.80,0.90],[1.82,1.95],[1.84,0.80],[1.86,0.37],[1.93,0.31],[2.00,0.33],[2.09,0.34],[2.19,0.33],[2.26,0.34],[2.29,0.60],[2.31,1.04],[2.33,0.55],[2.37,0.43],[2.42,0.35],[2.48,0.21],[2.53,0.28],[2.55,0.31],[2.60,0.33],[2.64,0.50],[2.65,0.98],[2.67,0.45],[2.69,0.31],[2.74,0.35],[2.78,0.43],[2.82,0.70],[2.84,0.92],[2.86,1.00],[2.88,1.22],[2.91,0.92],[2.94,0.70],[2.98,0.49],[3.02,0.30],[3.05,0.18],[3.08,0.00],[3.11,0.55],[3.14,0.25],[3.19,0.30],[3.22,0.31],[3.30,0.40],[3.38,0.67],[3.40,0.50],[3.44,0.37],[3.50,0.45],[3.54,0.55],[3.58,0.40],[3.65,0.37],[3.72,0.36],[3.79,0.37],[3.86,0.43],[3.92,0.50],[3.96,1.52],[3.97,0.60],[4.00,0.43],[4.02,1.30],[4.04,1.83],[4.06,1.00],[4.09,0.79],[4.11,0.65],[4.13,0.92],[4.15,0.60],[4.20,0.43],[4.29,0.37],[4.40,0.34],[4.45,0.31],[4.50,0.45],[4.52,0.76],[4.55,0.60],[4.58,0.67],[4.61,0.45],[4.63,0.31],[4.68,0.40],[4.72,0.61],[4.75,0.45],[4.79,0.31],[4.84,0.58],[4.86,0.40],[4.90,0.30],[4.97,0.25],[5.00,0.40],[5.02,0.70],[5.04,0.50],[5.09,0.37],[5.16,0.40],[5.20,0.43],[5.25,0.49],[5.29,0.50],[5.33,0.43],[5.38,0.50],[5.43,0.60],[5.45,0.79],[5.48,0.60],[5.52,0.55],[5.57,0.67],[5.61,0.48],[5.66,0.43],[5.72,0.50],[5.76,0.55],[5.82,0.60],[5.89,0.61],[5.94,0.50],[6.00,0.40]];
const fHRFM=[[1.00,0.38],[1.05,0.55],[1.10,0.42],[1.14,0.36],[1.18,0.60],[1.20,1.05],[1.22,0.45],[1.27,0.33],[1.32,0.36],[1.36,0.40],[1.39,0.70],[1.40,0.95],[1.42,0.55],[1.45,0.52],[1.48,0.70],[1.50,1.20],[1.52,0.75],[1.55,0.70],[1.56,1.00],[1.58,0.80],[1.61,0.55],[1.65,0.40],[1.69,0.10],[1.70,-0.06],[1.72,0.30],[1.77,0.65],[1.80,0.90],[1.82,1.70],[1.84,0.75],[1.86,0.38],[1.93,0.35],[2.00,0.36],[2.09,0.36],[2.19,0.38],[2.26,0.40],[2.29,0.70],[2.31,1.10],[2.33,0.55],[2.37,0.45],[2.44,0.38],[2.51,0.36],[2.58,0.38],[2.63,0.50],[2.65,0.95],[2.67,0.50],[2.70,0.40],[2.74,0.38],[2.78,0.60],[2.81,0.95],[2.84,1.20],[2.87,1.00],[2.90,1.30],[2.92,1.00],[2.95,0.70],[3.00,0.30],[3.05,0.12],[3.08,0.50],[3.10,0.80],[3.12,0.55],[3.15,0.33],[3.22,0.35],[3.30,0.47],[3.38,0.55],[3.44,0.45],[3.50,0.50],[3.54,0.60],[3.56,0.90],[3.58,0.45],[3.64,0.40],[3.72,0.42],[3.79,0.47],[3.86,0.50],[3.92,0.55],[3.96,0.70],[3.99,0.55],[4.02,1.20],[4.03,1.70],[4.05,1.00],[4.07,0.70],[4.11,0.58],[4.15,0.52],[4.22,0.45],[4.29,0.40],[4.36,0.38],[4.42,0.35],[4.47,0.33],[4.51,0.70],[4.53,0.90],[4.56,0.65],[4.58,0.75],[4.61,0.47],[4.65,0.50],[4.69,0.60],[4.72,0.48],[4.76,0.36],[4.80,0.42],[4.84,0.85],[4.86,0.50],[4.93,0.33],[4.98,0.36],[5.02,0.80],[5.04,0.50],[5.09,0.36],[5.14,0.38],[5.20,0.45],[5.25,0.60],[5.29,0.52],[5.35,0.48],[5.40,0.52],[5.45,0.70],[5.48,0.58],[5.52,0.66],[5.57,0.60],[5.61,0.45],[5.66,0.48],[5.72,0.54],[5.78,0.52],[5.83,0.58],[5.89,0.63],[5.94,0.52],[6.00,0.42]];
const fSigTop=[[1.00,0.65],[1.04,0.75],[1.08,0.70],[1.12,0.80],[1.15,0.90],[1.18,1.00],[1.20,1.50],[1.21,0.90],[1.24,0.70],[1.28,0.65],[1.32,0.70],[1.36,0.85],[1.39,1.20],[1.40,1.95],[1.41,1.20],[1.43,0.90],[1.46,1.10],[1.48,1.40],[1.50,1.60],[1.51,1.20],[1.53,1.40],[1.55,2.00],[1.56,2.30],[1.57,1.50],[1.59,2.10],[1.60,1.20],[1.63,0.90],[1.66,0.75],[1.70,0.65],[1.74,0.75],[1.78,0.95],[1.81,1.50],[1.82,2.90],[1.83,1.60],[1.85,0.90],[1.88,0.70],[1.93,0.65],[1.98,0.62],[2.04,0.65],[2.10,0.62],[2.16,0.65],[2.22,0.70],[2.27,0.75],[2.29,1.00],[2.31,1.60],[2.33,0.90],[2.36,0.75],[2.41,0.70],[2.47,0.65],[2.52,0.68],[2.57,0.70],[2.61,0.75],[2.64,0.95],[2.65,1.50],[2.67,0.85],[2.71,0.80],[2.75,0.95],[2.77,1.40],[2.78,1.90],[2.80,2.60],[2.81,2.80],[2.83,2.40],[2.85,2.70],[2.87,2.20],[2.89,2.00],[2.91,2.60],[2.93,1.80],[2.95,1.40],[2.97,1.00],[3.00,0.85],[3.04,0.75],[3.08,0.85],[3.11,1.00],[3.14,0.75],[3.18,0.70],[3.22,0.72],[3.26,0.80],[3.30,1.20],[3.31,1.55],[3.33,0.90],[3.37,0.85],[3.40,1.00],[3.44,0.80],[3.50,0.85],[3.54,1.00],[3.56,1.30],[3.58,0.90],[3.62,0.80],[3.66,0.90],[3.70,0.85],[3.75,0.80],[3.79,0.90],[3.82,1.00],[3.86,0.85],[3.90,0.95],[3.94,1.20],[3.96,1.90],[3.98,2.20],[4.00,2.60],[4.02,2.50],[4.04,2.20],[4.05,1.50],[4.07,1.10],[4.10,0.95],[4.14,1.05],[4.18,0.85],[4.23,0.80],[4.29,0.75],[4.35,0.72],[4.41,0.70],[4.45,0.75],[4.50,1.00],[4.52,1.45],[4.54,1.20],[4.56,1.40],[4.58,1.00],[4.62,0.85],[4.66,0.90],[4.70,1.10],[4.73,0.90],[4.77,0.85],[4.81,1.00],[4.84,1.30],[4.85,1.85],[4.86,1.20],[4.89,0.90],[4.94,0.85],[4.98,0.90],[5.01,1.10],[5.03,1.55],[5.05,1.00],[5.09,0.85],[5.14,0.85],[5.19,0.82],[5.24,0.90],[5.29,0.85],[5.34,0.88],[5.39,0.85],[5.44,0.95],[5.48,0.90],[5.53,1.00],[5.57,0.90],[5.62,0.88],[5.67,0.85],[5.72,0.90],[5.77,0.92],[5.82,0.88],[5.88,1.05],[5.91,0.95],[5.96,0.85],[6.00,0.80]];
const fSigBot=[[1.00,0.10],[1.10,0.05],[1.20,0.10],[1.30,0.00],[1.40,0.05],[1.50,0.02],[1.60,0.05],[1.68,-0.10],[1.70,-0.25],[1.72,-0.05],[1.80,0.05],[1.90,0.10],[2.00,0.15],[2.20,0.12],[2.40,0.10],[2.60,0.12],[2.80,0.05],[2.95,0.00],[3.05,-0.15],[3.10,0.05],[3.30,0.12],[3.50,0.10],[3.70,0.10],[3.90,0.08],[4.10,0.05],[4.30,0.10],[4.40,-0.08],[4.50,0.05],[4.70,0.10],[4.90,0.05],[5.10,0.10],[5.30,0.12],[5.50,0.15],[5.70,0.12],[5.90,0.15],[6.00,0.15]];
const fNoiseTop=[[1.00,0.25],[6.00,0.25]];
const fNoiseHi=[[1.04,4.8],[1.08,2.5],[1.12,5.6],[1.16,1.6],[1.20,3.7],[1.25,5.1],[1.29,2.2],[1.33,4.4],[1.37,1.3],[1.42,3.1],[1.46,5.8],[1.50,2.7],[1.55,4.0],[1.59,1.5],[1.63,3.4],[1.68,5.3],[1.72,2.0],[1.76,4.6],[1.81,1.2],[1.85,3.6],[1.90,5.5],[1.94,2.4],[1.98,4.2],[2.03,1.4],[2.07,3.0],[2.12,5.0],[2.16,2.1],[2.21,4.7],[2.25,1.1],[2.30,3.3],[2.34,5.7],[2.39,2.6],[2.43,4.1],[2.48,1.6],[2.52,3.8],[2.57,5.2],[2.61,2.3],[2.66,4.5],[2.70,1.2],[2.75,3.2],[2.79,5.9],[2.84,2.8],[2.88,4.3],[2.93,1.5],[2.97,3.5],[3.02,5.4],[3.06,2.0],[3.11,4.8],[3.15,1.3],[3.20,3.1],[3.24,5.0],[3.29,2.5],[3.33,4.0],[3.38,1.4],[3.42,3.7],[3.47,5.6],[3.51,2.2],[3.56,4.4],[3.60,1.1],[3.65,3.3],[3.69,5.3],[3.74,2.7],[3.78,4.6],[3.83,1.6],[3.87,3.9],[3.92,5.8],[3.96,2.1],[4.01,4.2],[4.05,1.2],[4.10,3.4],[4.14,5.1],[4.19,2.4],[4.23,4.9],[4.28,1.5],[4.32,3.0],[4.37,5.5],[4.41,2.6],[4.46,4.3],[4.50,1.3],[4.55,3.6],[4.59,5.2],[4.64,2.0],[4.68,4.7],[4.73,1.4],[4.77,3.2],[4.82,5.7],[4.86,2.5],[4.91,4.1],[4.95,1.2],[5.00,3.8],[5.04,5.0],[5.09,2.3],[5.13,4.5],[5.18,1.6],[5.22,3.1],[5.27,5.4],[5.31,2.8],[5.36,4.0],[5.40,1.1],[5.45,3.5],[5.49,5.9],[5.54,2.2],[5.58,4.6],[5.63,1.5],[5.67,3.3],[5.72,5.2],[5.76,2.6],[5.81,4.3],[5.85,1.3],[5.90,3.7],[5.94,5.5],[5.98,2.0],
[1.06,1.0],[1.14,3.0],[1.23,1.8],[1.31,4.0],[1.40,0.95],[1.48,2.2],[1.57,4.4],[1.65,1.1],[1.74,3.0],[1.83,2.5],[1.92,1.0],[2.01,3.4],[2.10,1.9],[2.19,2.9],[2.28,1.3],[2.37,4.3],[2.46,2.0],[2.55,1.0],[2.64,3.0],[2.73,2.4],[2.82,3.6],[2.91,1.1],[3.00,2.6],[3.09,1.6],[3.18,4.2],[3.27,1.0],[3.36,2.9],[3.45,1.8],[3.54,3.5],[3.63,2.0],[3.72,1.0],[3.81,2.7],[3.90,1.4],[3.99,3.3],[4.08,2.2],[4.17,1.0],[4.26,3.7],[4.35,1.9],[4.44,2.8],[4.53,1.1],[4.62,3.1],[4.71,2.0],[4.80,1.0],[4.89,3.4],[4.98,2.3],[5.07,1.2],[5.16,2.9],[5.25,1.8],[5.34,3.6],[5.43,1.3],[5.52,2.5],[5.61,1.0],[5.70,3.1],[5.79,1.9],[5.88,2.8],[5.97,1.1]];
const fNoiseLo=[[1.03,-0.9],[1.09,-1.6],[1.15,-0.7],[1.21,-1.3],[1.27,-1.9],[1.33,-0.8],[1.39,-1.5],[1.45,-1.1],[1.51,-1.8],[1.57,-0.6],[1.63,-1.4],[1.69,-1.0],[1.75,-1.7],[1.81,-0.8],[1.87,-1.2],[1.93,-1.9],[1.99,-0.7],[2.05,-1.5],[2.11,-1.0],[2.17,-1.8],[2.23,-0.9],[2.29,-1.3],[2.35,-0.6],[2.41,-1.6],[2.47,-1.1],[2.53,-1.9],[2.59,-0.8],[2.65,-1.4],[2.71,-1.0],[2.77,-1.7],[2.83,-0.7],[2.89,-1.2],[2.95,-1.8],[3.01,-0.9],[3.07,-1.5],[3.13,-1.1],[3.19,-1.9],[3.25,-0.6],[3.31,-1.3],[3.37,-1.6],[3.43,-0.8],[3.49,-1.0],[3.55,-1.8],[3.61,-0.7],[3.67,-1.4],[3.73,-1.2],[3.79,-1.9],[3.85,-0.9],[3.91,-1.5],[3.97,-1.0],[4.03,-1.7],[4.09,-0.6],[4.15,-1.3],[4.21,-1.8],[4.27,-0.8],[4.33,-1.1],[4.39,-1.6],[4.45,-0.7],[4.51,-1.4],[4.57,-1.9],[4.63,-1.0],[4.69,-0.8],[4.75,-1.5],[4.81,-1.2],[4.87,-1.8],[4.93,-0.6],[4.99,-1.3],[5.05,-1.7],[5.11,-0.9],[5.17,-1.1],[5.23,-1.6],[5.29,-0.7],[5.35,-1.4],[5.41,-1.9],[5.47,-1.0],[5.53,-0.8],[5.59,-1.5],[5.65,-1.2],[5.71,-1.8],[5.77,-0.6],[5.83,-1.3],[5.89,-1.7],[5.95,-0.9]];

const binWidth=0.05;
const gHRFM=[0.0044,0.0126,0.0188,0.0183,0.0325,0.0428,0.0889,0.1645,0.1596,0.1106,0.0763,0.0542,0.0436,0.0351,0.0276,0.0216,0.0175,0.0129,0.0118,0.0096,0.0069,0.0052,0.0040,0.0032,0.0025,0.0020,0.0016,0.0014,0.0013,0.0012,0.0010,0.0009,0.0008,0.0007,0.0006,0.0006,0.0005,0.0005,0.0004,0.0004,0.0003,0.0003,0.0003,0.0003,0.0002,0.0002,0.0002,0.0002,0.0002,0.0002,0.0001,0.0001,0.0001,0.0001,0.0001,0.0001,0.0001,0.0001,0.0001,0.0001];
const gATM=[0.0060,0.0145,0.0194,0.0232,0.0390,0.0530,0.1307,0.1714,0.1384,0.0889,0.0632,0.0493,0.0382,0.0338,0.0240,0.0178,0.0162,0.0126,0.0096,0.0077,0.0060,0.0047,0.0039,0.0034,0.0028,0.0023,0.0018,0.0015,0.0012,0.0011,0.0009,0.0008,0.0007,0.0006,0.0005,0.0005,0.0004,0.0004,0.0003,0.0003,0.0002,0.0002,0.0002,0.0002,0.0002,0.0002,0.0002,0.0002,0.0002,0.0002,0.0001,0.0001,0.0001,0.0001,0.0001,0.0001,0.0001,0.0001,0.0001,0.0001];
const gATL=[0.0036,0.0100,0.0210,0.0167,0.0310,0.0410,0.0665,0.1665,0.1724,0.1250,0.0815,0.0567,0.0440,0.0355,0.0273,0.0208,0.0183,0.0126,0.0106,0.0080,0.0060,0.0047,0.0036,0.0028,0.0021,0.0016,0.0012,0.0015,0.0017,0.0014,0.0011,0.0010,0.0010,0.0009,0.0008,0.0008,0.0007,0.0006,0.0005,0.0005,0.0004,0.0004,0.0003,0.0003,0.0003,0.0002,0.0002,0.0002,0.0002,0.0002,0.0001,0.0001,0.0001,0.0001,0.0001,0.0001,0.0001,0.0001,0.0001,0.0001];
const hHRFM=[0.0044,0.0134,0.0200,0.0216,0.0371,0.0513,0.0905,0.1474,0.1441,0.1123,0.0804,0.0575,0.0449,0.0351,0.0297,0.0224,0.0142,0.0123,0.0106,0.0085,0.0060,0.0049,0.0044,0.0041,0.0031,0.0025,0.0018,0.0015,0.0012,0.0011,0.0009,0.0008,0.0008,0.0007,0.0006,0.0005,0.0005,0.0004,0.0004,0.0003,0.0002,0.0002,0.0002,0.0002,0.0002,0.0002,0.0002,0.0002,0.0002,0.0002,0.0001,0.0001,0.0001,0.0001,0.0001,0.0001,0.0001,0.0001,0.0001,0.0001];
const hATM=[0.0060,0.0158,0.0178,0.0194,0.0379,0.0554,0.1180,0.1605,0.1360,0.0943,0.0714,0.0559,0.0449,0.0338,0.0265,0.0224,0.0172,0.0118,0.0096,0.0080,0.0069,0.0057,0.0044,0.0036,0.0028,0.0023,0.0020,0.0015,0.0012,0.0011,0.0009,0.0008,0.0008,0.0007,0.0006,0.0005,0.0005,0.0004,0.0004,0.0003,0.0002,0.0002,0.0002,0.0002,0.0002,0.0002,0.0002,0.0002,0.0002,0.0002,0.0001,0.0001,0.0001,0.0001,0.0001,0.0001,0.0001,0.0001,0.0001,0.0001];
const hATL=[0.0036,0.0096,0.0240,0.0178,0.0363,0.0390,0.0734,0.1694,0.1861,0.1315,0.0858,0.0640,0.0433,0.0301,0.0211,0.0142,0.0126,0.0085,0.0074,0.0047,0.0031,0.0021,0.0015,0.0011,0.0008,0.0008,0.0005,0.0005,0.0004,0.0004,0.0003,0.0003,0.0003,0.0002,0.0002,0.0002,0.0002,0.0002,0.0002,0.0002,0.0002,0.0001,0.0001,0.0001,0.0001,0.0001,0.0001,0.0001,0.0001,0.0001,0.0001,0.0001,0.0001,0.0001,0.0001,0.0001,0.0001,0.0001,0.0001,0.0001];

const tableHeader=['N','Mean','Median','Mode'];
const gTable=[['29\u2009199','0.48','0.43','0.38'],['29\u2009199','0.46','0.41','0.36'],['29\u2009199','0.48','0.44','0.38']];
const gExtra='(15\u2009145)';
const hTable=[['29\u2009144','0.48','0.43','0.38'],['29\u2009144','0.46','0.42','0.38'],['29\u2009144','0.46','0.443','0.42']];
const hExtra='(15\u2009020)';
const histLegend=['HRFM','ATM','ATL07'];
const photonLegend=['Noise photon','Signal photon','ATM','HRFM','ATL07','Photon rate'];
const statText={a:['r = 0.76\u00b10.14','r = 0.76\u00b10.14'],b:['RMSE = 0.14\u00b10.03 (m)','RMSE = 0.14\u00b10.03 (m)'],c:['r = 0.79\u00b10.13','r = 0.76\u00b10.11'],d:['RMSE = 0.13\u00b10.03 (m)','RMSE = 0.14\u00b10.02 (m)']};

// ===================== STYLE / HELPERS =====================
const FONT='"Liberation Serif","Times New Roman",serif';
Chart.defaults.font.family=FONT;
Chart.defaults.font.size=84;
Chart.defaults.color='#000';
const RED='#D83B36',BLUE='#3D6CC6',PURPLE='#7E55C0',PINK='#FFB8C4',GRID='#DADADA',NOISE='#C4C4C4';
const TRED='#E0342F',TBLUE='#3A66C8';

// the figure is laid out on a 5047 x 7519 design grid; map it onto the real window
(function(){const vw=window.innerWidth||5047,vh=window.innerHeight||7519;const sx=vw/5047,sy=vh/7519;
  if(Math.abs(sx-1)>0.002||Math.abs(sy-1)>0.002){document.body.style.transformOrigin='0 0';document.body.style.transform='scale('+sx+','+sy+')';}})();

function copper(t){t=Math.max(0,Math.min(1,t));return 'rgb('+Math.round(255*Math.min(1,1.25*t))+','+Math.round(255*0.7812*t)+','+Math.round(255*0.4975*t)+')';}
function mkCanvas(x,y,w,h){const c=document.createElement('canvas');c.width=w;c.height=h;c.style.left=x+'px';c.style.top=y+'px';c.style.width=w+'px';c.style.height=h+'px';document.body.appendChild(c);return c;}
function txt(s,x,y,o){o=o||{};const d=document.createElement('div');d.className=o.cls||'tx';d.textContent=s;d.style.left=x+'px';d.style.top=y+'px';d.style.fontSize=(o.size||84)+'px';if(o.bold)d.style.fontWeight='bold';if(o.color)d.style.color=o.color;document.body.appendChild(d);return d;}
function box(x,y,w,h,css){const d=document.createElement('div');d.className='sw';d.style.cssText+='left:'+x+'px;top:'+y+'px;width:'+w+'px;height:'+h+'px;'+css;document.body.appendChild(d);return d;}
const fixTicks=arr=>(s=>{s.ticks=arr.map(v=>({value:v}));});
const xy=a=>a.map(q=>({x:q[0],y:q[1]}));

function drawFrame(chart,o){
  const ctx=chart.ctx,a=chart.chartArea;ctx.save();ctx.lineCap='butt';
  const seg=(x1,y1,x2,y2,c,w)=>{ctx.strokeStyle=c;ctx.lineWidth=w;ctx.beginPath();ctx.moveTo(x1,y1);ctx.lineTo(x2,y2);ctx.stroke();};
  if(o.xTicks){const s=chart.scales.x;s.ticks.forEach(t=>{const p=s.getPixelForValue(t.value);if(p<a.left+3||p>a.right-3)return;seg(p,a.top,p,a.top+o.xLen,'#000',o.tickW);seg(p,a.bottom,p,a.bottom-o.xLen,'#000',o.tickW);});}
  if(o.leftTicks){const s=chart.scales[o.leftTicks];s.ticks.forEach(t=>{const p=s.getPixelForValue(t.value);if(p<a.top+3||p>a.bottom-3)return;seg(a.left,p,a.left+o.yLen,p,'#000',o.tickW);});}
  if(o.rightTicks){const s=chart.scales[o.rightTicks];s.ticks.forEach(t=>{const p=s.getPixelForValue(t.value);if(p<a.top+3||p>a.bottom-3)return;seg(a.right,p,a.right-o.yLen,p,o.rightColor||'#000',o.tickW);});}
  const W=o.lw;
  seg(a.left-W/2,a.top,a.right+W/2,a.top,'#000',W);
  seg(a.left-W/2,a.bottom,a.right+W/2,a.bottom,'#000',W);
  seg(a.left,a.top,a.left,a.bottom,'#000',o.leftW||W);
  seg(a.right,a.top,a.right,a.bottom,o.rightColor||'#000',o.rightW||W);
  ctx.restore();
}
const mbox={id:'mbox',
  beforeDatasetsDraw(chart,args,o){
    if(o.band){const a=chart.chartArea,ctx=chart.ctx;const x=chart.scales.x.getPixelForValue(o.band.at);const t=o.band.top==='area'?a.top:0;const b=o.band.bottom==='area'?a.bottom:chart.height;ctx.save();ctx.fillStyle=o.band.color;ctx.fillRect(x-o.band.w/2,t,o.band.w,b-t);ctx.restore();}
    if(o.layer==='below')drawFrame(chart,o);
  },
  afterDatasetsDraw(chart,args,o){if(o.layer!=='below')drawFrame(chart,o);}
};
const baseOpts={responsive:false,animation:false,devicePixelRatio:1,events:[]};

function segPanel(p){
  const W=4560,H=p.cb-p.ct;const cv=mkCanvas(0,p.ct,W,H);
  const cols=p.rate.map(v=>copper((v-p.rMin)/(p.rMax-p.rMin)));
  const pts=arr=>segments.map((s,i)=>({x:s,y:arr[i]}));
  return new Chart(cv,{type:'line',data:{datasets:[
    {data:pts(p.hrfm),showLine:false,pointStyle:'circle',pointRadius:21,pointBackgroundColor:cols,pointBorderColor:cols,pointBorderWidth:0,clip:false},
    {data:pts(p.atl),showLine:false,pointStyle:'rect',pointRadius:26,pointBackgroundColor:cols,pointBorderColor:cols,pointBorderWidth:0,clip:false},
    {data:pts(p.atl),borderColor:BLUE,borderWidth:10,borderDash:p.dash?[50,32]:[],pointRadius:0,fill:false,clip:false},
    {data:pts(p.hrfm),borderColor:RED,borderWidth:13,pointRadius:0,fill:false,clip:false}
  ]},options:Object.assign({},baseOpts,{
    layout:{padding:{left:0,right:W-4461,top:p.pt-p.ct,bottom:0}},
    plugins:{legend:{display:false},tooltip:{enabled:false},
      mbox:{layer:'below',lw:9,tickW:7,xLen:40,yLen:45,xTicks:true,leftTicks:'y',rightTicks:'y',band:{at:14,w:28,color:'rgba(150,150,150,0.62)',top:p.bandTop,bottom:p.bandBottom}}},
    scales:{
      x:{type:'linear',min:0,max:18,afterBuildTicks:fixTicks(segTicks),
        ticks:{display:!!p.showX,padding:20,autoSkip:false,maxRotation:0,callback:v=>String(v)},
        grid:{color:GRID,lineWidth:6,drawTicks:false},border:{display:false},
        title:{display:!!p.showX,text:'Segment number',font:{size:90,weight:'bold'},padding:{top:0,bottom:12}},
        afterFit:s=>{s.height=p.cb-p.pb;}},
      y:{type:'linear',min:p.yMin,max:p.yMax,afterBuildTicks:fixTicks(p.yTicks),
        ticks:{padding:12,autoSkip:false,callback:v=>String(v)},
        grid:{color:GRID,lineWidth:6,drawTicks:false},border:{display:false},
        title:{display:true,text:p.yTitle,font:{size:88,weight:'bold'},padding:{top:p.titlePad,bottom:0}},
        afterFit:s=>{s.width=322;}}
    }}),plugins:[mbox]});
}
const chA=segPanel({ct:0,cb:797,pt:82,pb:734,yMin:0.4,yMax:1,yTicks:rTicks,yTitle:'r',titlePad:76,hrfm:rHRFM_a,atl:rATL_a,rate:rateAB,rMin:2,rMax:6,bandTop:'area',bandBottom:'canvas'});
const chB=segPanel({ct:797,cb:1545,pt:859,pb:1511,yMin:0.05,yMax:0.22,yTicks:rmseTicks,yTitle:'RMSE (m)',titlePad:37,hrfm:rmseHRFM_b,atl:rmseATL_b,rate:rateAB,rMin:2,rMax:6,dash:true,bandTop:'canvas',bandBottom:'canvas'});
const chC=segPanel({ct:1545,cb:2290,pt:1576,pb:2224,yMin:0.4,yMax:1,yTicks:rTicks,yTitle:'r',titlePad:76,hrfm:rHRFM_c,atl:rATL_c,rate:rateCD,rMin:1,rMax:2,bandTop:'canvas',bandBottom:'canvas'});
const chD=segPanel({ct:2290,cb:3240,pt:2354,pb:3003,yMin:0.05,yMax:0.2,yTicks:rmseTicks,yTitle:'RMSE (m)',titlePad:37,hrfm:rmseHRFM_d,atl:rmseATL_d,rate:rateCD,rMin:1,rMax:2,dash:true,showX:true,bandTop:'canvas',bandBottom:'area'});

function colorbar(p){
  const x0=4560,W=487,H=p.cb-p.ct;const cv=mkCanvas(x0,p.ct,W,H);
  return new Chart(cv,{type:'bar',data:{labels:[''],datasets:[{data:[[p.min,p.max]],borderWidth:0,barPercentage:1,categoryPercentage:1,
    backgroundColor:c=>{const ch=c.chart,a=ch.chartArea;if(!a)return '#888';const g=ch.ctx.createLinearGradient(0,a.bottom,0,a.top);g.addColorStop(0,copper(0));g.addColorStop(0.8,copper(0.8));g.addColorStop(1,copper(1));return g;}}]},
    options:Object.assign({},baseOpts,{layout:{padding:{left:49,right:0,top:p.pt-p.ct,bottom:p.cb-p.pb}},
      plugins:{legend:{display:false},tooltip:{enabled:false},mbox:{layer:'above',lw:6,tickW:5,xLen:0,yLen:18,xTicks:false,leftTicks:null,rightTicks:'y'}},
      scales:{x:{display:false},
        y:{position:'right',min:p.min,max:p.max,afterBuildTicks:fixTicks(p.ticks),ticks:{padding:42,autoSkip:false,callback:v=>String(v)},grid:{display:false,drawTicks:false},border:{display:false},afterFit:s=>{s.width=332;}}}}),
    plugins:[mbox]});
}
colorbar({ct:0,cb:1545,pt:82,pb:1511,min:2,max:6,ticks:cbTicksAB});
colorbar({ct:1545,cb:3240,pt:1576,pb:3003,min:1,max:2,ticks:cbTicksCD});

function photonPanel(p){
  const W=5047,H=p.cb-p.ct;const cv=mkCanvas(0,p.ct,W,H);
  const grad=c=>{const ch=c.chart,a=ch.chartArea;if(!a)return 'rgba(200,200,200,0.5)';const y0=ch.scales.y.getPixelForValue(p.gTop);const g=ch.ctx.createLinearGradient(0,y0,0,a.bottom);p.gStops.forEach(s=>g.addColorStop(s[0],s[1]));return g;};
  return new Chart(cv,{type:'line',data:{datasets:[
    {data:xy(p.rate),yAxisID:'y2',borderColor:PURPLE,borderWidth:8,pointRadius:0,fill:false},
    {data:xy(p.atl),borderColor:BLUE,borderWidth:9,pointRadius:0,fill:false},
    {data:xy(p.hrfm),borderColor:RED,borderWidth:9,pointRadius:0,fill:false},
    {data:xy(p.atm),borderColor:'#000',borderWidth:8,pointRadius:0,fill:false},
    {data:xy(p.sigTop),borderWidth:0,pointRadius:0,backgroundColor:PINK,fill:5},
    {data:xy(p.sigBot),borderWidth:0,pointRadius:0,fill:false},
    {data:xy(p.noiseHi),showLine:false,pointStyle:'rect',pointRadius:8,pointBackgroundColor:NOISE,pointBorderWidth:0},
    {data:xy(p.noiseLo),showLine:false,pointStyle:'rect',pointRadius:8,pointBackgroundColor:NOISE,pointBorderWidth:0},
    {data:xy(p.noiseTop),borderWidth:0,pointRadius:0,fill:{value:-2},backgroundColor:grad}
  ]},options:Object.assign({},baseOpts,{
    layout:{padding:{left:0,right:0,top:p.pt-p.ct,bottom:0}},
    plugins:{legend:{display:false},tooltip:{enabled:false},
      mbox:{layer:'above',lw:9,tickW:7,xLen:30,yLen:40,xTicks:true,leftTicks:'y',rightTicks:'y2',rightColor:PURPLE,leftW:4,rightW:6}},
    scales:{
      x:{type:'linear',min:1,max:6,afterBuildTicks:fixTicks(distTicks),
        ticks:{display:!!p.showX,padding:22,autoSkip:false,maxRotation:0,callback:v=>String(v)},
        grid:{display:false,drawTicks:false},border:{display:false},
        title:{display:!!p.showX,text:'Distance (km)',font:{size:90,weight:'bold'},padding:{top:0,bottom:11}},
        afterFit:s=>{s.height=p.cb-p.pb;}},
      y:{type:'linear',min:-2,max:6,afterBuildTicks:fixTicks(heightTicks),
        ticks:{padding:20,autoSkip:false,callback:v=>String(v)},
        grid:{display:false,drawTicks:false},border:{display:false},
        title:{display:true,text:'Height (m)',font:{size:88,weight:'bold'},padding:{top:34,bottom:0}},
        afterFit:s=>{s.width=241;}},
      y2:{type:'linear',position:'right',min:p.r2[0],max:p.r2[1],afterBuildTicks:fixTicks(p.r2Ticks),
        ticks:{padding:30,color:PURPLE,autoSkip:false,callback:v=>String(v)},
        grid:{display:false,drawTicks:false},border:{display:false},
        afterFit:s=>{s.width=284;}}
    }}),plugins:[mbox]});
}
const chE=photonPanel({ct:3240,cb:4370,pt:3285,pb:4334,rate:eRate,atl:eATL,hrfm:eHRFM,atm:eATM,sigTop:eSigTop,sigBot:eSigBot,noiseHi:eNoiseHi,noiseLo:eNoiseLo,noiseTop:eNoiseTop,r2:[2,6],r2Ticks:rateTicksE,
  gTop:0.1,gStops:[[0,'rgba(196,196,196,0.9)'],[0.35,'rgba(200,200,200,0.62)'],[1,'rgba(200,200,200,0.35)']]});
const chF=photonPanel({ct:4370,cb:5680,pt:4402,pb:5452,rate:fRate,atl:fATL,hrfm:fHRFM,atm:fATM,sigTop:fSigTop,sigBot:fSigBot,noiseHi:fNoiseHi,noiseLo:fNoiseLo,noiseTop:fNoiseTop,r2:[0,2],r2Ticks:rateTicksF,showX:true,
  gTop:0.25,gStops:[[0,'rgba(198,198,198,0.85)'],[0.15,'rgba(200,200,200,0.5)'],[0.35,'rgba(200,200,200,0.2)'],[1,'rgba(200,200,200,0.12)']]});

function stairs(v){const out=[{x:0,y:0}];v.forEach((y,i)=>out.push({x:i*binWidth,y:y}));out.push({x:v.length*binWidth,y:v[v.length-1]});return out;}
function histPanel(p){
  const cv=mkCanvas(p.cx,5660,p.cw,1859);
  return new Chart(cv,{type:'line',data:{datasets:[
    {data:stairs(p.atl),borderColor:BLUE,borderWidth:13,stepped:'before',pointRadius:0,fill:false},
    {data:stairs(p.atm),borderColor:'#000',borderWidth:13,stepped:'before',pointRadius:0,fill:false},
    {data:stairs(p.hrfm),borderColor:RED,borderWidth:13,stepped:'before',pointRadius:0,fill:false}
  ]},options:Object.assign({},baseOpts,{
    layout:{padding:{left:0,right:p.cx+p.cw-p.r,top:5773-5660,bottom:0}},
    plugins:{legend:{display:false},tooltip:{enabled:false},mbox:{layer:'above',lw:8,tickW:7,xLen:30,yLen:30,xTicks:true,leftTicks:'y',rightTicks:'y'}},
    scales:{
      x:{type:'linear',min:0,max:3,afterBuildTicks:fixTicks(histXTicks),ticks:{padding:23,font:{size:86},autoSkip:false,maxRotation:0,callback:v=>String(v)},
        grid:{display:false,drawTicks:false},border:{display:false},
        title:{display:true,text:'Height (m)',font:{size:96,weight:'bold'},padding:{top:0,bottom:49}},afterFit:s=>{s.height=7519-7232;}},
      y:{type:'linear',min:0,max:0.2,afterBuildTicks:fixTicks(histYTicks),ticks:{padding:24,font:{size:86},autoSkip:false,callback:v=>String(v)},
        grid:{display:false,drawTicks:false},border:{display:false},
        title:{display:true,text:'Probability',font:{size:96,weight:'bold'},padding:{top:p.tpad,bottom:0}},afterFit:s=>{s.width=p.l-p.cx;}}
    }}),plugins:[mbox]});
}
histPanel({cx:0,cw:2520,l:327,r:2349,tpad:70,hrfm:gHRFM,atm:gATM,atl:gATL});
histPanel({cx:2480,cw:2567,l:2744,r:4766,tpad:24,hrfm:hHRFM,atm:hATM,atl:hATL});

const LB=80;
[['(a)',122],['(b)',865],['(c)',1609],['(d)',2374],['(e)',3300],['(f)',4420],['(g)',5730]].forEach(q=>txt(q[0],40,q[1],{size:LB,bold:true}));
txt('(h)',2496,5730,{size:LB,bold:true});

txt(statText.a[0],2639,469,{size:90,color:TRED});txt(statText.a[1],2639,612,{size:90,color:TBLUE});
txt(statText.b[0],2430,1286,{size:90,color:TRED});txt(statText.b[1],2430,1411,{size:90,color:TBLUE});
txt(statText.c[0],2639,1951,{size:90,color:TRED});txt(statText.c[1],2639,2095,{size:90,color:TBLUE});
txt(statText.d[0],2430,2797,{size:90,color:TRED});txt(statText.d[1],2430,2921,{size:90,color:TBLUE});

txt('Mean photon rate',4957,797,{cls:'rot',size:88});
txt('Mean photon rate',4957,2290,{cls:'rot',size:88});
txt('Photon rate',4913,3805,{cls:'rot',size:88,color:PURPLE});
txt('Photon rate',4913,4925,{cls:'rot',size:88,color:PURPLE});

function photonLeg(top,r1,r2){
  const b=document.createElement('div');b.className='lg';b.style.cssText+='left:1561px;top:'+top+'px;width:1899px;height:184px;';document.body.appendChild(b);
  box(1674,r1-7,14,14,'background:'+NOISE+';');txt(photonLegend[0],1802,r1,{size:72});
  box(2334,r1-6,12,12,'background:'+PINK+';');txt(photonLegend[1],2452,r1,{size:72});
  box(2897,r1-7,195,14,'background:#000;');txt(photonLegend[2],3112,r1,{size:72});
  box(1577,r2-7,209,14,'background:'+RED+';');txt(photonLegend[3],1802,r2,{size:72});
  box(2232,r2-7,198,14,'background:'+BLUE+';');txt(photonLegend[4],2452,r2,{size:72});
  box(2897,r2-7,195,14,'background:'+PURPLE+';');txt(photonLegend[5],3112,r2,{size:72});
}
photonLeg(3334,3389,3466);
photonLeg(4452,4504,4583);

function histLeg(cy,xs){
  const cols=[RED,'#000',BLUE];
  xs.forEach((q,i)=>{box(q[0],cy-34,q[1]-q[0],68,'border:13px solid '+cols[i]+';box-sizing:border-box;background:#fff;');txt(histLegend[i],q[2],cy,{size:76});});
}
histLeg(5898,[[542,829,845],[1108,1387,1405],[1619,1898,1916]]);
histLeg(5906,[[3109,3393,3408],[3673,3954,3970],[4181,4466,4478]]);

function histTable(cols,rows,extra){
  const ys=[6218,6371,6522];const tc=['#C00000','#000',BLUE];
  tableHeader.forEach((h,i)=>txt(h,cols[i],6067,{cls:'ctr',size:86,bold:true}));
  rows.forEach((r,j)=>r.forEach((v,i)=>txt(v,cols[i],ys[j],{cls:'ctr',size:84,color:tc[j]})));
  txt(extra,cols[0],6625,{cls:'ctr',size:84,color:BLUE});
}
histTable([952,1281,1643,2049],gTable,gExtra);
histTable([3491,3821,4181,4587],hTable,hExtra);

(function(){
  const x14=chD.scales.x.getPixelForValue(14), y14=2290+chD.chartArea.bottom;
  const ea=chE.chartArea; const lx=ea.left+14, rx=ea.right-4, ty=3240+ea.top+2;
  const ns='http://www.w3.org/2000/svg';
  const svg=document.createElementNS(ns,'svg');svg.setAttribute('width','5047');svg.setAttribute('height','7519');
  svg.style.cssText='position:absolute;left:0;top:0;z-index:8;pointer-events:none;';
  svg.innerHTML='<defs><marker id="ah" markerWidth="7" markerHeight="6" refX="6" refY="3" orient="auto" markerUnits="strokeWidth"><path d="M0,0 L7,3 L0,6 z" fill="#4472C4"/></marker></defs>'+
    '<line x1="'+x14+'" y1="'+y14+'" x2="'+lx+'" y2="'+ty+'" stroke="#4472C4" stroke-width="10" marker-end="url(#ah)"/>'+
    '<line x1="'+x14+'" y1="'+y14+'" x2="'+rx+'" y2="'+ty+'" stroke="#4472C4" stroke-width="10" marker-end="url(#ah)"/>';
  document.body.appendChild(svg);
})();
</script>
</body></html>
